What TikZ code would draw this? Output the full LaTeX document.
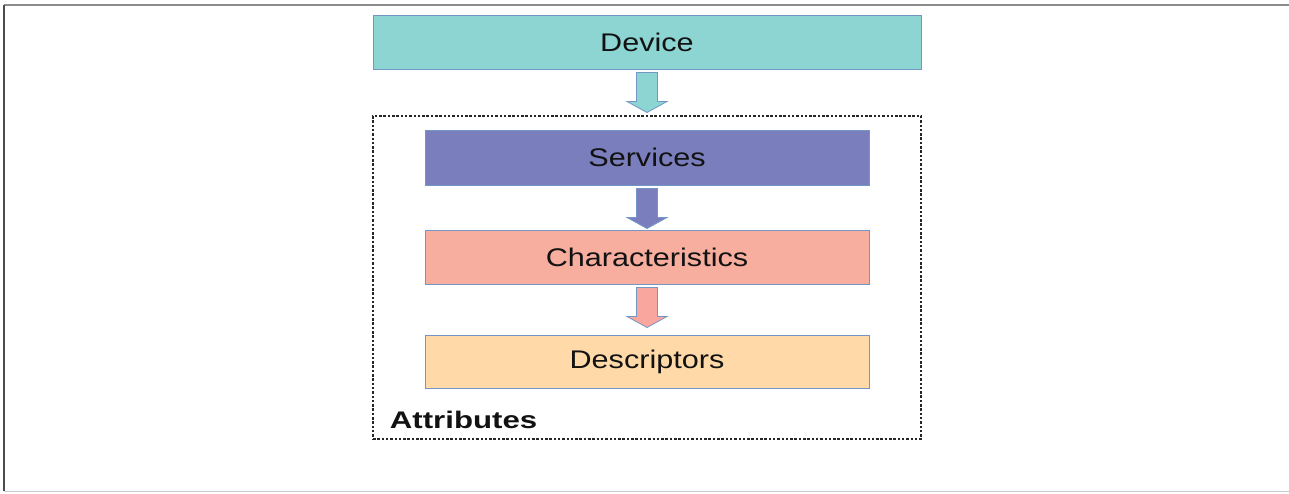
\documentclass[tikz,border=0pt]{standalone}
\usepackage{fontspec}
\setmainfont{Liberation Sans}[FakeStretch=1.2]
\newfontfamily\attrfont{Liberation Sans}[FakeStretch=1.3]
\usepackage{xcolor}
\usepackage{tikz}
\definecolor{devcol}{HTML}{8DD5D3}
\definecolor{svccol}{HTML}{7A7EBD}
\definecolor{chrcol}{HTML}{F7AE9E}
\definecolor{dsccol}{HTML}{FFDAA8}
\definecolor{arrcol}{HTML}{F9A69F}
\definecolor{bordcol}{HTML}{7496C6}

\begin{document}
\begin{tikzpicture}[x=1pt, y=-1pt,
        layer/.style={draw=bordcol, line width=1pt, inner sep=0pt,
            font=\fontsize{25.5}{30}\selectfont, text=black!93},
        blockarr/.style={draw=bordcol, line width=0.8pt, line join=miter},
        attrframe/.style={draw=black!85, line width=1.2pt, dash pattern=on 2.5pt off 1.8pt,
            minimum width=548pt, minimum height=323pt, inner sep=0pt}]
        \useasboundingbox (0,0) rectangle (1289,493);

        % page edges
        \draw[line width=1.2pt, black!45] (4,5) -- (1289,5);
        \draw[line width=1.5pt, black!70] (4,5) -- (4,491);
        \draw[line width=1pt, black!20] (4,491) -- (1289,491);

        \node[layer, fill=devcol, minimum width=548pt, minimum height=54pt] (dev) at (647,42) {Device};

        \node[attrframe] (attr) at (647,277.5) {};
        \node[anchor=base west, font=\attrfont\bfseries\fontsize{24}{28}\selectfont, text=black!93]
            (attrlbl) at ([xshift=14pt, yshift=11pt]attr.south west) {Attributes};

        \node[layer, fill=svccol, minimum width=444pt, minimum height=55pt] (svc) at (647,157.5) {Services};
        \node[layer, fill=chrcol, minimum width=444pt, minimum height=54pt] (chr) at (647,257) {Characteristics};
        \node[layer, fill=dsccol, minimum width=444pt, minimum height=53pt] (dsc) at (647,361.5) {Descriptors};

        % block arrows between layers
        \foreach \from/\col in {dev/devcol, svc/svccol, chr/arrcol}
            \draw[blockarr, fill=\col, shift={(\from.south)}]
                (-10.5,3) -- (10.5,3) -- (10.5,32) -- (20,32) -- (0,43) -- (-20,32) -- (-10.5,32) -- cycle;
    \end{tikzpicture}
\end{document}
